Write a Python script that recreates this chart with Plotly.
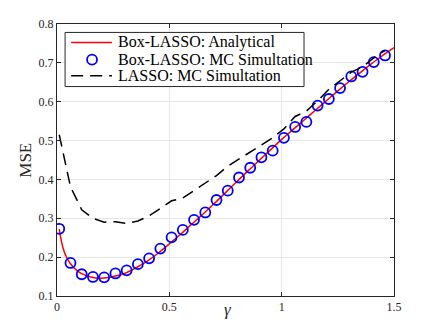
import plotly.graph_objects as go

# analytical Box-LASSO curve
gamma_an = [0.01, 0.02, 0.03, 0.04, 0.05, 0.06, 0.08, 0.10, 0.12, 0.15, 0.18, 0.20, 0.22,
            0.25, 0.30, 0.35, 0.40, 0.45, 0.50, 0.55, 0.60, 0.65, 0.70, 0.75, 0.80, 0.85,
            0.90, 0.95, 1.00, 1.05, 1.10, 1.15, 1.20, 1.25, 1.30, 1.35, 1.40, 1.45, 1.50]
mse_an = [0.272, 0.240, 0.218, 0.203, 0.192, 0.183, 0.170, 0.161, 0.155, 0.149, 0.146, 0.146, 0.147,
          0.150, 0.158, 0.172, 0.189, 0.210, 0.234, 0.259, 0.285, 0.311, 0.338, 0.366, 0.394, 0.422,
          0.449, 0.476, 0.503, 0.528, 0.553, 0.578, 0.603, 0.628, 0.652, 0.675, 0.698, 0.719, 0.739]

# MC simulation grid
gamma_mc = [0.01, 0.06, 0.11, 0.16, 0.21, 0.26, 0.31, 0.36, 0.41, 0.46,
            0.51, 0.56, 0.61, 0.66, 0.71, 0.76, 0.81, 0.86, 0.91, 0.96,
            1.01, 1.06, 1.11, 1.16, 1.21, 1.26, 1.31, 1.36, 1.41, 1.46]
mse_box_mc = [0.273, 0.185, 0.156, 0.149, 0.148, 0.158, 0.166, 0.182, 0.197, 0.222,
              0.251, 0.270, 0.296, 0.315, 0.347, 0.371, 0.405, 0.430, 0.457, 0.474,
              0.507, 0.535, 0.548, 0.590, 0.607, 0.635, 0.665, 0.677, 0.702, 0.719]
mse_lasso_mc = [0.515, 0.381, 0.322, 0.300, 0.290, 0.291, 0.287, 0.293, 0.306, 0.326,
                0.345, 0.352, 0.372, 0.392, 0.410, 0.434, 0.452, 0.470, 0.488, 0.507,
                0.530, 0.562, 0.576, 0.602, 0.632, 0.655, 0.676, 0.690, 0.713, 0.732]

legend_names = ["Box-LASSO: Analytical", "Box-LASSO: MC Simultation", "LASSO: MC Simultation"]

fnt = "Liberation Serif"
axcol = "#262626"
red, blue = "#ff0000", "#0000ff"
dash = "12px,7px"

fig = go.Figure()
fig.add_trace(go.Scatter(x=gamma_an, y=mse_an, mode="lines", name=legend_names[0],
                         line=dict(color=red, width=1.5, shape="spline")))
fig.add_trace(go.Scatter(x=gamma_mc, y=mse_box_mc, mode="markers", name=legend_names[1],
                         marker=dict(symbol="circle-open", size=10, color=blue,
                                     line=dict(color=blue, width=1.8))))
fig.add_trace(go.Scatter(x=gamma_mc, y=mse_lasso_mc, mode="lines", name=legend_names[2],
                         line=dict(color="black", width=1.5, dash=dash)))

# compact MATLAB-style legend drawn in paper coords
row_y = [0.932, 0.869, 0.810]
fig.add_shape(type="rect", xref="paper", yref="paper", x0=0.024, x1=0.733, y0=0.770, y1=0.969,
              line=dict(color=axcol, width=1), fillcolor="white", layer="above")
fig.add_shape(type="line", xref="paper", yref="paper", x0=0.042, x1=0.163, y0=row_y[0], y1=row_y[0],
              line=dict(color=red, width=1.5), layer="above")
fig.add_shape(type="circle", xref="paper", yref="paper", x0=0.104 - 0.0148, x1=0.104 + 0.0148,
              y0=row_y[1] - 0.0184, y1=row_y[1] + 0.0184, line=dict(color=blue, width=1.8), layer="above")
fig.add_shape(type="line", xref="paper", yref="paper", x0=0.042, x1=0.163, y0=row_y[2], y1=row_y[2],
              line=dict(color="black", width=1.5, dash=dash), layer="above")
for name, yy in zip(legend_names, row_y):
    fig.add_annotation(text=name, xref="paper", yref="paper", x=0.176, y=yy,
                       xanchor="left", yanchor="middle", showarrow=False,
                       font=dict(family=fnt, size=16, color="black"))

# axis titles
fig.add_annotation(text="MSE", xref="paper", yref="paper", x=-0.092, y=0.501, textangle=-90,
                   xanchor="center", yanchor="middle", showarrow=False,
                   font=dict(family=fnt, size=17, color=axcol))
fig.add_annotation(text="<i>γ</i>", xref="paper", yref="paper", x=0.507, y=-0.048,
                   xanchor="center", yanchor="middle", showarrow=False,
                   font=dict(family=fnt, size=17, color=axcol))

axis_common = dict(showline=True, linecolor=axcol, linewidth=1, mirror="ticks",
                   ticks="inside", ticklen=4, tickcolor=axcol, automargin=False,
                   showgrid=True, gridcolor="#e6e6e6", gridwidth=1, zeroline=False,
                   tickfont=dict(family=fnt, size=12, color=axcol))

fig.update_layout(
    width=428, height=325,
    margin=dict(l=49, r=42, t=16, b=37),
    plot_bgcolor="white", paper_bgcolor="white",
    font=dict(family=fnt, color=axcol),
    showlegend=False,
    xaxis=dict(range=[0, 1.5], tickvals=[0, 0.5, 1, 1.5], ticktext=["0", "0.5", "1", "1.5"],
               **axis_common),
    yaxis=dict(range=[0.1, 0.8], dtick=0.1, tickformat=".1f", **axis_common),
)

fig.write_html("out.html")
